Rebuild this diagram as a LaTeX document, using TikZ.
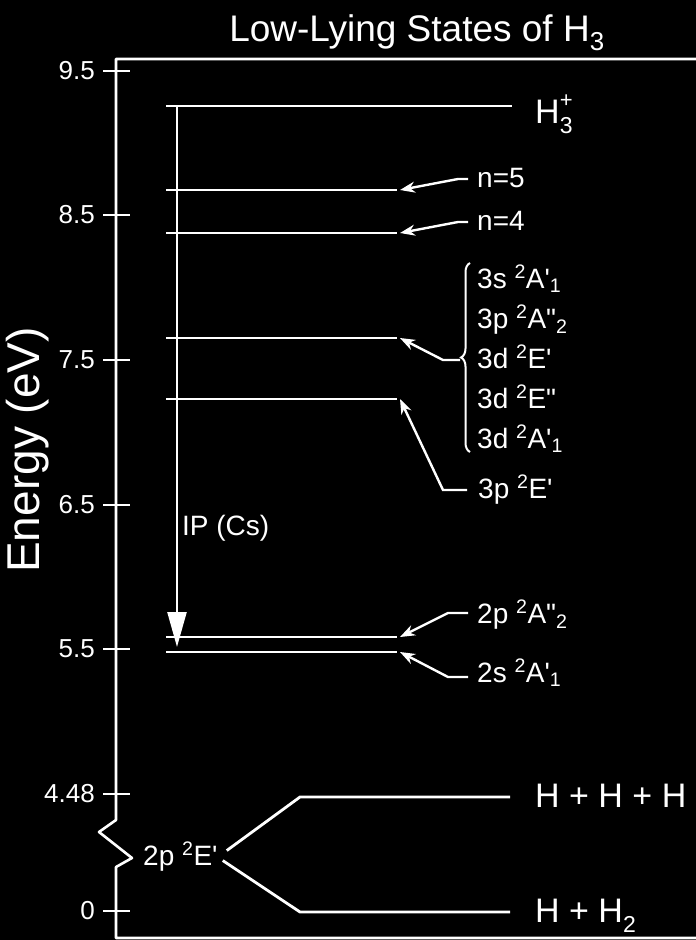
\documentclass[tikz,border=0pt]{standalone}
\usepackage{fontspec}
\setmainfont{Liberation Sans}
\usetikzlibrary{arrows.meta,positioning,decorations.pathreplacing}
\newcommand{\prm}{\textquotesingle}
\newcommand{\dprm}{\textquotedbl}
\newcommand{\hiidx}[1]{\raisebox{0.45em}{\fontsize{22}{22}\selectfont #1}}
\newcommand{\loidx}[1]{\raisebox{-0.3em}{\fontsize{23}{23}\selectfont #1}}

\begin{document}
\begin{tikzpicture}[x=1pt, y=-1pt,
  axis/.style={draw=white, line width=2.6pt, line join=round},
  level/.style={draw=white, line width=2.8pt},
  ptr/.style={draw=white, line width=2.4pt, -{Stealth[length=15pt,width=11pt]}},
  tick/.style={text=white, font=\fontsize{26}{28}\selectfont, anchor=east, inner sep=0pt},
  lbl/.style={text=white, font=\fontsize{28}{31}\selectfont, anchor=base west, inner sep=0pt},
  big/.style={text=white, font=\fontsize{34}{38}\selectfont, anchor=base west, inner sep=0pt},
  brc/.style={draw=white, line width=2pt, decorate, decoration={brace, amplitude=9pt}}
]
  \useasboundingbox (0,0) rectangle (696,940);
  \fill[black] (0,0) rectangle (696,940);

  % title and axis
  \node[text=white, font=\fontsize{37}{40}\selectfont, anchor=base, inner sep=0pt] (title) at (417,41)
    {Low-Lying States of H\textsubscript{3}};
  \node[text=white, font=\fontsize{46}{50}\selectfont, rotate=90, inner sep=0pt] (ylab) at (28,450)
    {Energy (eV)};
  \draw[axis] (696,59) -- (116,59) -- (116,820) -- (99,832) -- (132,858) -- (116,867)
    -- (116,938) -- (696,938);
  \foreach \y/\v [count=\i] in {71/9.5, 215/8.5, 360/7.5, 505/6.5, 649/5.5, 794/4.48, 911/0} {
    \draw[axis] (103,\y) -- (130,\y);
    \node[tick] (tk\i) at (95,\y) {\v};
  }

  % levels
  \draw[level] (166,106) -- (512,106) coordinate (vion);
  \foreach \y/\n in {190/v5, 233/v4, 338/vryd, 399/vtp, 637/vtwop, 652/vtwos} {
    \draw[level] (166,\y) -- (397,\y);
    \coordinate (\n) at (400,\y);
  }
  \node[big] (ion) at (535,123) {H\rlap{\hiidx{+}}\loidx{3}};

  % ionization potential of Cs
  \draw[draw=white, line width=2.4pt, -{Triangle[length=35pt,width=19pt]}] (177,106) -- (177,647);
  \node[lbl] (ip) at (182,535) {IP (Cs)};

  % state labels
  \node[lbl] (n5) at (477,187) {n=5};
  \node[lbl] (n4) at (477,230) {n=4};
  \node[lbl] (r1) at (477,288) {3s \textsuperscript{2}A\prm\textsubscript{1}};
  \node[lbl] (r2) at (477,328) {3p \textsuperscript{2}A\dprm\textsubscript{2}};
  \node[lbl] (r3) at (477,368) {3d \textsuperscript{2}E\prm};
  \node[lbl] (r4) at (477,408) {3d \textsuperscript{2}E\dprm};
  \node[lbl] (r5) at (477,448) {3d \textsuperscript{2}A\prm\textsubscript{1}};
  \node[lbl] (tp) at (478,498) {3p \textsuperscript{2}E\prm};
  \node[lbl] (twop) at (477,623) {2p \textsuperscript{2}A\dprm\textsubscript{2}};
  \node[lbl] (twos) at (477,682) {2s \textsuperscript{2}A\prm\textsubscript{1}};

  \draw[brc] (470,452) -- (470,263) coordinate[midway] (bmid);
  \coordinate (btip) at (460,360);

  \draw[ptr] ([shift={(-9,-8)}]n5.base west) -- ++(-10,0) -- (v5);
  \draw[ptr] ([shift={(-9,-8)}]n4.base west) -- ++(-10,0) -- (v4);
  \draw[ptr] (btip) -- (443,360) -- (vryd);
  \draw[ptr] ([shift={(-11,-8)}]tp.base west) -- (443,490) -- (vtp);
  \draw[ptr] ([shift={(-9,-10)}]twop.base west) -- (448,613) -- (vtwop);
  \draw[ptr] ([shift={(-9,-5)}]twos.base west) -- (448,677) -- (vtwos);

  % dissociation limits
  \node[lbl] (ep) at (143,865) {2p \textsuperscript{2}E\prm};
  \draw[level] ([shift={(9,-6)}]ep.east) -- (300,797) -- (510,797);
  \draw[level] ([shift={(5,4)}]ep.east) -- (300,912) -- (510,912);
  \node[big] (hhh) at (535,807) {H + H + H};
  \node[big] (hh) at (535,922) {H + H\loidx{2}};
\end{tikzpicture}
\end{document}
